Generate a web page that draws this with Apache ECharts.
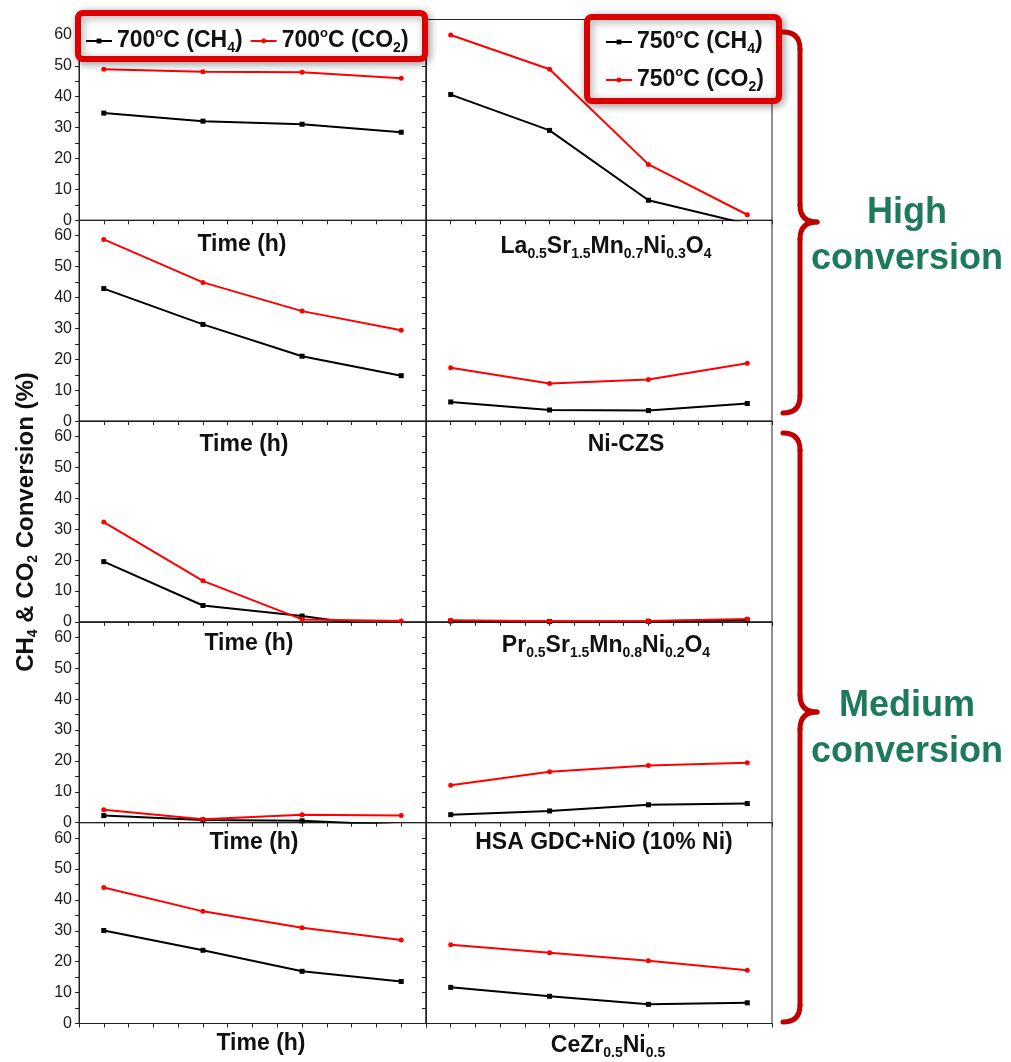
<!DOCTYPE html>
<html>
<head>
<meta charset="utf-8">
<title>CH4 & CO2 conversion</title>
<script src="https://cdn.jsdelivr.net/npm/echarts@6/dist/echarts.min.js"></script>
<style>
  html, body { margin: 0; padding: 0; background: #fff; }
  #chart { width: 1011px; height: 1062px; }
</style>
</head>
<body>
<div id="chart"></div>
<script>
// time points (sample index along the time axis)
const timePts = [1, 2, 3, 4]

// one row per panel, top to bottom
const ch4At700 = [
  [34.7, 32.1, 31.1, 28.5],
  [42.9, 31.3, 21.0, 14.7],
  [19.5, 5.3, 1.9, -2.5],
  [2.3, 0.9, 0.6, -0.8],
  [30.1, 23.7, 16.9, 13.6]
]
const co2At700 = [
  [48.9, 48.1, 47.9, 46.0],
  [58.8, 44.9, 35.6, 29.4],
  [32.3, 13.3, 0.8, 0.3],
  [4.2, 1.1, 2.6, 2.3],
  [44.0, 36.3, 31.0, 27.0]
]
const ch4At750 = [
  [40.7, 29.1, 6.5, -1.2],
  [6.2, 3.6, 3.4, 5.7],
  [0.3, 0.1, 0.2, 0.6],
  [2.6, 3.8, 5.8, 6.2],
  [11.7, 8.8, 6.2, 6.7]
]
const co2At750 = [
  [60.0, 48.9, 18.1, 1.8],
  [17.3, 12.2, 13.5, 18.7],
  [0.5, 0.2, 0.3, 0.9],
  [12.1, 16.5, 18.5, 19.4],
  [25.5, 22.9, 20.3, 17.2]
]

const seriesNames = ['700°C (CH4)', '700°C (CO2)', '750°C (CH4)', '750°C (CO2)']
const yMax = 65
const yStep = 5

const FONT = '"Liberation Sans", Arial, sans-serif'
const INK = '#111'
const GREEN = '#1d7a5a'

// color is read by legend text, fill by graphic text
const rich = {
  n: { fontSize: 23, fontWeight: 'bold', fontFamily: FONT, color: INK, fill: INK, lineHeight: 28 },
  s: { fontSize: 14, fontWeight: 'bold', fontFamily: FONT, color: INK, fill: INK, lineHeight: 16, verticalAlign: 'bottom' },
  sup: { fontSize: 13, fontWeight: 'bold', fontFamily: FONT, color: INK, fill: INK, lineHeight: 16, verticalAlign: 'top' },
  big: { fontSize: 24, fontWeight: 'bold', fontFamily: FONT, color: INK, fill: INK, lineHeight: 28 },
  g: { fontSize: 36, fontWeight: 'bold', fontFamily: FONT, color: GREEN, fill: GREEN, lineHeight: 46, align: 'center' }
}

function legendFmt (name) {
  let m = name.match(/^(\d+)°C \((CH|CO)(\d)\)$/)
  return '{n|' + m[1] + '}{sup|o}{n|C (' + m[2] + '}{s|' + m[3] + '}{n|)}'
}

let grids = []
let xAxes = []
let yAxes = []
let series = []
const rowTop = 19.5
const rowH = 200.8

for (let r = 0; r < 5; r++) {
  for (let c = 0; c < 2; c++) {
    let i = r * 2 + c
    grids.push({
      left: c ? 426 : 79,
      width: c ? 346 : 347,
      top: rowTop + r * rowH,
      height: rowH,
      show: true,
      borderColor: '#222',
      borderWidth: 1,
      backgroundColor: 'transparent'
    })
    xAxes.push({
      gridIndex: i,
      type: 'value',
      min: 0.75,
      max: 4.25,
      interval: 0.25,
      axisLine: { show: true, onZero: false, lineStyle: { color: '#222', width: 1 } },
      axisTick: { show: true, length: 4, lineStyle: { color: '#222' } },
      axisLabel: { show: false },
      splitLine: { show: false }
    })
    yAxes.push({
      gridIndex: i,
      type: 'value',
      min: 0,
      max: yMax,
      interval: yStep,
      axisLine: { show: true, onZero: false, lineStyle: { color: '#222', width: 1 } },
      axisTick: { show: true, length: 4, lineStyle: { color: '#222' } },
      axisLabel: {
        show: c === 0,
        fontSize: 16,
        fontFamily: FONT,
        color: '#1a1a1a',
        margin: 7,
        formatter: v => (v % 10 === 0 ? String(v) : '')
      },
      splitLine: { show: false }
    })
    let ch4 = c ? ch4At750[r] : ch4At700[r]
    let co2 = c ? co2At750[r] : co2At700[r]
    series.push({
      type: 'line',
      name: seriesNames[c * 2],
      xAxisIndex: i,
      yAxisIndex: i,
      symbol: 'rect',
      symbolSize: 5,
      color: '#000',
      lineStyle: { width: 2, color: '#000' },
      data: timePts.map((t, k) => [t, ch4[k]])
    })
    series.push({
      type: 'line',
      name: seriesNames[c * 2 + 1],
      xAxisIndex: i,
      yAxisIndex: i,
      symbol: 'circle',
      symbolSize: 5,
      color: '#ff0000',
      lineStyle: { width: 2, color: '#ff0000' },
      data: timePts.map((t, k) => [t, co2[k]])
    })
  }
}

function label (x, y, text) {
  return { type: 'text', x: x, y: y, z: 12, style: { text: text, rich: rich, align: 'center', verticalAlign: 'middle' } }
}

const boxStyle = {
  fill: '#fff',
  stroke: '#dd0000',
  lineWidth: 6,
  shadowBlur: 8,
  shadowColor: 'rgba(0,0,0,0.35)',
  shadowOffsetX: 2,
  shadowOffsetY: 2
}
const braceStyle = { fill: 'none', stroke: '#c00000', lineWidth: 5, lineCap: 'round' }

// curly brace built from quadratic curves and straight pieces
function brace (y0, yMid, y1) {
  const xe = 783, xs = 800, xt = 817, k = 17
  const curve = (x1, y1, cx, cy, x2, y2) => ({ type: 'bezierCurve', z: 10, shape: { x1, y1, cpx1: cx, cpy1: cy, x2, y2 }, style: braceStyle })
  const seg = (ya, yb) => ({ type: 'line', z: 10, shape: { x1: xs, y1: ya, x2: xs, y2: yb }, style: braceStyle })
  return [
    curve(xe, y0, xs, y0, xs, y0 + k),
    seg(y0 + k, yMid - k),
    curve(xs, yMid - k, xs, yMid, xt, yMid),
    curve(xt, yMid, xs, yMid, xs, yMid + k),
    seg(yMid + k, y1 - k),
    curve(xs, y1 - k, xs, y1, xe, y1)
  ]
}

let graphics = [
  { type: 'rect', z: 10, shape: { x: 78, y: 13, width: 347, height: 46, r: 5 }, style: boxStyle },
  { type: 'rect', z: 10, shape: { x: 587, y: 17, width: 192, height: 84, r: 5 }, style: boxStyle },
  label(242, 245, '{n|Time (h)}'),
  label(606, 247, '{n|La}{s|0.5}{n|Sr}{s|1.5}{n|Mn}{s|0.7}{n|Ni}{s|0.3}{n|O}{s|4}'),
  label(244, 445, '{n|Time (h)}'),
  label(626, 445, '{n|Ni-CZS}'),
  label(249, 644, '{n|Time (h)}'),
  label(606, 646, '{n|Pr}{s|0.5}{n|Sr}{s|1.5}{n|Mn}{s|0.8}{n|Ni}{s|0.2}{n|O}{s|4}'),
  label(254, 843, '{n|Time (h)}'),
  label(604, 843, '{n|HSA GDC+NiO (10% Ni)}'),
  label(261, 1044, '{n|Time (h)}'),
  label(608, 1046, '{n|CeZr}{s|0.5}{n|Ni}{s|0.5}'),
  label(907, 236, '{g|High}\n{g|conversion}'),
  label(907, 729, '{g|Medium}\n{g|conversion}'),
  {
    type: 'text', x: 26, y: 522, z: 12, rotation: Math.PI / 2,
    style: { text: '{big|CH}{s|4}{big| & CO}{s|2}{big| Conversion (%)}', rich: rich, align: 'center', verticalAlign: 'middle' }
  }
].concat(brace(32, 222, 413), brace(433, 712, 1022))

const legendBase = {
  padding: 0,
  itemWidth: 26,
  itemHeight: 6,
  selectedMode: false,
  z: 20,
  formatter: legendFmt,
  textStyle: { rich: rich }
}

let chart = echarts.init(document.getElementById('chart'))
chart.setOption({
  animation: false,
  backgroundColor: '#fff',
  grid: grids,
  xAxis: xAxes,
  yAxis: yAxes,
  legend: [
    Object.assign({}, legendBase, { data: seriesNames.slice(0, 2), left: 85, top: 27, orient: 'horizontal', itemGap: 7 }),
    Object.assign({}, legendBase, { data: seriesNames.slice(2), left: 605, top: 28, orient: 'vertical', itemGap: 10 })
  ],
  graphic: graphics,
  series: series
})
window.addEventListener('resize', () => chart.resize())
</script>
</body>
</html>
